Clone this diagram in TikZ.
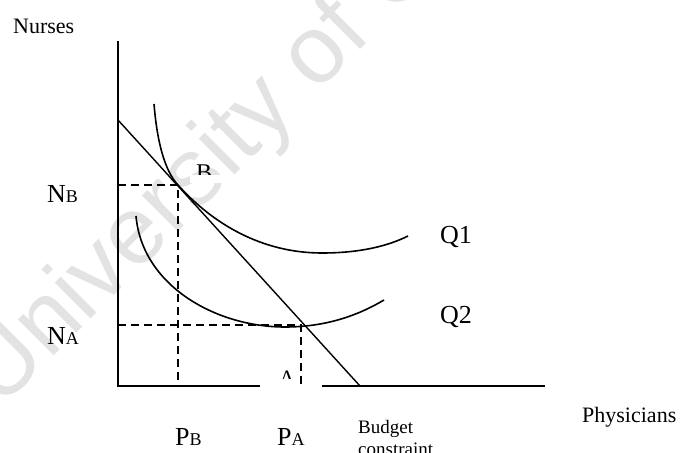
\documentclass[tikz,border=0pt]{standalone}
\usepackage{fontspec}
\setmainfont{Liberation Serif}
\newfontfamily\markfont{Liberation Sans}
\definecolor{IsoInk}{HTML}{000000}
\definecolor{IsoMark}{HTML}{E3E3E3}
\tikzset{
  iso axis/.style={draw=IsoInk, line width=2pt},
  iso budget/.style={draw=IsoInk, line width=1.4pt},
  iso curve/.style={draw=IsoInk, line width=1.6pt},
  iso guide/.style={draw=IsoInk, line width=1.5pt, dash pattern=on 8pt off 5pt},
  iso axis label/.style={font=\fontsize{22}{24}\selectfont, text=IsoInk, inner sep=0pt, anchor=base west},
  iso level/.style={font=\fontsize{26}{28}\selectfont, text=IsoInk, inner sep=0pt, anchor=base west},
  iso point/.style={font=\fontsize{24}{26}\selectfont, text=IsoInk, inner sep=0pt, anchor=base west},
  iso note/.style={font=\fontsize{19}{22}\selectfont, text=IsoInk, inner sep=0pt, align=left},
  iso mask/.style={fill=white, draw=none},
  iso mark/.style={font=\markfont\fontsize{96}{96}\selectfont, text=IsoMark, inner sep=0pt},
}
\newcommand{\IsoSub}[2]{#1{\fontsize{18}{18}\selectfont #2}}

\begin{document}
\begin{tikzpicture}[x=1pt,y=-1pt]
  \useasboundingbox (0,0) rectangle (681,453);

  % watermark
  \begin{scope}
    \clip (0,0) rectangle (681,453);
    \node[iso mark, rotate=45, anchor=base west] (mark) at (0,410) {University of C};
  \end{scope}

  % axes and budget line
  \coordinate (O) at (118,386);
  \coordinate (ytop) at (118,41);
  \coordinate (xend) at (545,386);
  \coordinate (bud0) at (118,120);
  \coordinate (bud1) at (360,386);
  \draw[iso axis] (ytop) -- (O) -- (xend);
  \draw[iso budget] (bud0) -- (bud1);

  % tangency points
  \coordinate (ptB) at (178,185);
  \coordinate (ptA) at (301,325);
  \coordinate (yB) at (118,185);
  \coordinate (yA) at (118,325);
  \coordinate (xB) at (178,386);
  \coordinate (xA) at (301,386);

  % isoquants
  \draw[iso curve] (154,104) .. controls (157,140) and (164,170) .. (ptB)
    .. controls (213,224) and (262,253) .. (322,253)
    .. controls (360,253) and (388,246) .. (408,236);
  \draw[iso curve] (136,216) .. controls (142,285) and (215,327) .. (285,327)
    .. controls (330,327) and (362,313) .. (384,300);

  % point labels, partly hidden
  \node[iso point] (labB) at (196,180) {B};
  \fill[iso mask] (190,175) rectangle (225,183);
  \node[iso point, font=\fontsize{22}{24}\selectfont] (labA) at (279,385) {A};
  \fill[iso mask] (260,379) rectangle (322,390);

  % guides
  \draw[iso guide] (yB) -- (ptB) -- (xB);
  \draw[iso guide] (yA) -- (ptA) -- (xA);

  % labels
  \node[iso axis label] (nurses) at (13,33) {Nurses};
  \node[iso axis label] (physicians) at (582,422) {Physicians};
  \node[iso level] (nb) at (47,202) {\IsoSub{N}{B}};
  \node[iso level] (na) at (47,344) {\IsoSub{N}{A}};
  \node[iso level] (pb) at (175,445) {\IsoSub{P}{B}};
  \node[iso level] (pa) at (277,445) {\IsoSub{P}{A}};
  \node[iso level] (q1) at (440,243) {Q1};
  \node[iso level] (q2) at (440,323) {Q2};
  \node[iso note, anchor=north west] (budget) at (358,420) {Budget\\constraint};
\end{tikzpicture}
\end{document}
